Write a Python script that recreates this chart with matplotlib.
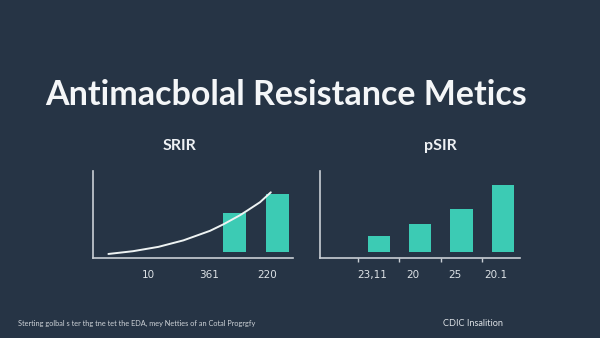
import matplotlib.pyplot as plt

# left panel: SRIR
srir_labels = ["10", "361", "220"]
srir_bars = [52, 74]
srir_curve_x = [0.77, 2.0, 3.27, 4.52, 5.85, 6.52, 7.35, 7.69, 8.35, 8.89]
srir_curve_y = [4.3, 7.5, 12.5, 20.0, 31.0, 38.5, 49.0, 54.0, 64.0, 75.4]

# right panel: pSIR
psir_labels = ["23,11", "20", "25", "20.1"]
psir_bars = [25.4, 38.5, 55.8, 83.9]

BG = "#263445"
TEAL = "#3ccbb4"
AXIS = "#c9ced4"
TEXT = "#eef1f4"

W, H = 600, 338
fig = plt.figure(figsize=(W / 100, H / 100), dpi=100, facecolor=BG)


def panel(x0, x1, y_top, y_bot):
    ax = fig.add_axes([x0 / W, 1 - y_bot / H, (x1 - x0) / W, (y_bot - y_top) / H])
    ax.set_facecolor(BG)
    ax.set_xlim(0, 10)
    ax.set_ylim(0, 100)
    for s in ["top", "right"]:
        ax.spines[s].set_visible(False)
    for s in ["left", "bottom"]:
        ax.spines[s].set_color(AXIS)
        ax.spines[s].set_linewidth(1.2)
    ax.set_yticks([])
    ax.tick_params(axis="x", length=0, pad=9, labelsize=7.5, labelcolor="#dde2e6")
    return ax


base = 6

ax1 = panel(93, 293, 171, 257.7)
bx = [7.08 + 2.12 * i for i in range(len(srir_bars))]
ax1.bar(bx, [v - base for v in srir_bars], bottom=base, width=1.15, color=TEAL, zorder=2)
ax1.plot(srir_curve_x, srir_curve_y, color="#eef3f3", lw=1.4,
         solid_capstyle="round", solid_joinstyle="round", zorder=3)
ax1.set_xticks([2.75, 5.8, 8.7], srir_labels)
ax1.set_title("SRIR", color=TEXT, fontsize=11.5, fontweight="bold", family="Lato", pad=15, x=0.43)

ax2 = panel(320, 520, 171, 257.7)
px = [2.94 + 2.07 * i for i in range(len(psir_bars))]
ax2.bar(px, [v - base for v in psir_bars], bottom=base, width=1.12, color=TEAL, zorder=2)
ax2.set_xticks([p - 0.35 for p in px], psir_labels)
ax2.set_xticks([p - 1.05 for p in px], minor=True)
ax2.tick_params(axis="x", which="minor", length=3, color=AXIS, width=1)
ax2.set_title("pSIR", color=TEXT, fontsize=11.5, fontweight="bold", family="Lato", pad=15, x=0.6)

fig.text(45 / W, 1 - 105 / H, "Antimacbolal Resistance Metics", color="#f4f6f8",
         fontsize=24.5, fontweight="bold", family="Lato", ha="left", va="baseline")

fig.text(18 / W, 1 - 323 / H,
         "Sterting golbal s ter thg tne tet the EDA, mey Netties of an Cotal Progrgfy",
         color="#cdd2d7", fontsize=5.3, family="Lato", ha="left", va="center")
fig.text(503 / W, 1 - 323 / H, "CDIC Insalition", color="#dde1e5",
         fontsize=6.6, family="Lato", ha="right", va="center")

fig.savefig("out.png", dpi=100, facecolor=BG)
